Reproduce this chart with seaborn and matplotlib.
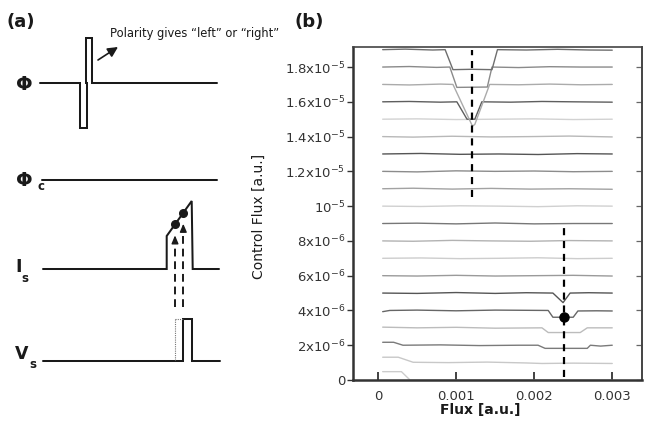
import numpy as np
import pandas as pd
import matplotlib
matplotlib.use("Agg")
import matplotlib.pyplot as plt
import seaborn as sns

# ---------------- panel (b): readout traces ----------------
# flux in units of 1e-3, control flux in units of 1e-6
flux_19 = [0.06, 0.35, 0.70, 0.86, 0.96, 1.20, 1.46, 1.53, 1.90, 2.30, 2.70, 3.00]
ctrl_19 = [19.0, 19.03, 18.98, 19.0, 17.85, 17.87, 17.85, 19.0, 18.98, 19.02, 18.98, 18.97]
flux_18 = [0.06, 0.40, 0.75, 0.92, 1.01, 1.40, 1.46, 1.80, 2.20, 2.60, 3.00]
ctrl_18 = [18.0, 18.03, 17.98, 18.0, 16.83, 16.85, 18.0, 17.97, 18.02, 18.0, 18.0]
flux_17 = [0.06, 0.40, 0.80, 0.96, 1.21, 1.24, 1.43, 1.80, 2.20, 2.60, 3.00]
ctrl_17 = [17.0, 16.97, 17.02, 17.0, 14.6, 14.7, 17.0, 16.98, 17.02, 16.98, 17.0]
flux_16 = [0.06, 0.40, 0.80, 1.01, 1.14, 1.24, 1.33, 1.70, 2.10, 2.50, 3.00]
ctrl_16 = [16.0, 16.02, 15.98, 16.0, 15.0, 15.0, 16.0, 15.98, 16.02, 16.0, 15.98]
flux_15 = [0.06, 0.50, 1.00, 1.50, 2.00, 2.50, 3.00]
ctrl_15 = [15.0, 15.02, 14.98, 15.0, 15.02, 14.98, 15.0]
flux_14 = [0.06, 0.45, 0.95, 1.45, 1.95, 2.45, 3.00]
ctrl_14 = [14.0, 13.97, 14.02, 13.98, 14.0, 14.03, 13.98]
flux_13 = [0.06, 0.55, 1.05, 1.55, 2.05, 2.55, 3.00]
ctrl_13 = [13.0, 13.03, 12.98, 13.0, 12.97, 13.02, 13.0]
flux_12 = [0.06, 0.50, 1.00, 1.50, 2.00, 2.50, 3.00]
ctrl_12 = [12.0, 11.97, 12.03, 12.0, 12.02, 11.98, 12.0]
flux_11 = [0.06, 0.45, 0.95, 1.45, 1.95, 2.45, 3.00]
ctrl_11 = [11.0, 11.03, 10.98, 11.02, 10.98, 11.0, 10.97]
flux_10 = [0.06, 0.55, 1.05, 1.55, 2.05, 2.55, 3.00]
ctrl_10 = [10.0, 9.98, 10.02, 10.0, 9.97, 10.02, 10.0]
flux_9 = [0.06, 0.50, 1.00, 1.50, 2.00, 2.50, 3.00]
ctrl_9 = [9.0, 9.02, 8.98, 9.03, 8.98, 9.0, 9.0]
flux_8 = [0.06, 0.45, 0.95, 1.45, 1.95, 2.45, 3.00]
ctrl_8 = [8.0, 7.98, 8.03, 8.0, 7.98, 8.02, 8.0]
flux_7 = [0.06, 0.55, 1.05, 1.55, 2.05, 2.55, 3.00]
ctrl_7 = [7.0, 7.02, 6.98, 7.0, 7.03, 6.98, 7.0]
flux_6 = [0.06, 0.50, 1.00, 1.50, 2.00, 2.50, 3.00]
ctrl_6 = [6.0, 5.98, 6.02, 5.98, 6.0, 6.02, 5.98]
flux_5 = [0.06, 0.50, 1.00, 1.50, 1.90, 2.24, 2.37, 2.46, 2.70, 3.00]
ctrl_5 = [5.0, 4.98, 5.03, 4.98, 5.02, 5.0, 4.45, 5.0, 5.02, 5.0]
flux_4 = [0.06, 0.15, 0.50, 1.00, 1.50, 2.18, 2.24, 2.50, 2.56, 2.80, 3.00]
ctrl_4 = [3.93, 4.0, 4.02, 3.98, 4.02, 4.0, 3.61, 3.61, 3.97, 3.98, 3.97]
flux_3 = [0.06, 0.50, 1.00, 1.50, 2.10, 2.18, 2.59, 2.68, 3.00]
ctrl_3 = [3.04, 3.0, 3.03, 2.98, 3.0, 2.73, 2.73, 3.0, 3.0]
flux_2 = [0.06, 0.20, 0.32, 0.80, 1.30, 1.80, 2.05, 2.14, 2.68, 2.72, 2.85, 3.00]
ctrl_2 = [2.17, 2.17, 2.0, 2.02, 1.98, 2.0, 2.0, 1.82, 1.82, 2.0, 1.95, 2.0]
flux_1 = [0.06, 0.26, 0.45, 0.90, 1.40, 1.90, 2.10, 2.50, 3.00]
ctrl_1 = [1.31, 1.31, 1.02, 1.0, 1.03, 0.98, 0.95, 0.97, 0.95]
flux_0 = [0.06, 0.30, 0.41, 1.00, 2.00, 3.00]
ctrl_0 = [0.48, 0.48, 0.0, 0.0, 0.0, 0.0]

# readout markers: dashed guide at the switching flux and the selected point
guide_flux = [1.20, 2.385]
guide_lo = [10.5, 0.15]
guide_hi = [19.0, 8.8]
point_flux = [2.38]
point_ctrl = [3.65]

y_tick_vals = [0, 2, 4, 6, 8, 10, 12, 14, 16, 18]
y_tick_text = ["0", "2x10$^{-6}$", "4x10$^{-6}$", "6x10$^{-6}$", "8x10$^{-6}$",
               "10$^{-5}$", "1.2x10$^{-5}$", "1.4x10$^{-5}$", "1.6x10$^{-5}$",
               "1.8x10$^{-5}$"]
x_tick_vals = [0, 1, 2, 3]
x_tick_text = ["0", "0.001", "0.002", "0.003"]

# ---------------- panel (a): timing schematic ----------------
# time axis (schematic units) and amplitude of each waveform
phi_t = [0, 40, 40, 47, 47, 46, 46, 52, 52, 177]
phi_a = [0, 0, -45, -45, 0, 0, 45, 45, 0, 0]
phic_t = [2, 177]
phic_a = [0, 0]
is_t = [3, 126.7, 126.7, 151.7, 152.7, 179]
is_a = [0, 0, 33, 68, 0, 0]
vs_t = [3, 143.3, 143.3, 151.7, 151.7, 180]
vs_a = [0, 0, 42, 42, 0, 0]
sample_t = [135.0, 143.3]

# ---------------- style ----------------
sns.set_theme(style="white")
plt.rcParams["font.family"] = ["DejaVu Sans"]
plt.rcParams["mathtext.fontset"] = "dejavusans"

fig = plt.figure(figsize=(6.47, 4.34), dpi=100)

# schematic canvas in pixel-like units
ax_a = fig.add_axes([0, 0, 1, 1])
ax_a.set_xlim(0, 647)
ax_a.set_ylim(434, 0)
ax_a.axis("off")

x0 = 40
base_phi, base_phic, base_is, base_vs = 83, 180, 269, 361
ink = "#1a1a1a"
lw_a = 1.45

def trace(t, a, base):
    return x0 + np.asarray(t, float), base - np.asarray(a, float)

for t, a, b in [(phi_t, phi_a, base_phi), (phic_t, phic_a, base_phic),
                (is_t, is_a, base_is), (vs_t, vs_a, base_vs)]:
    xs, ys = trace(t, a, b)
    ax_a.plot(xs, ys, color=ink, lw=lw_a, solid_joinstyle="miter")

# sample points on the ramp of I_s
ramp_t = is_t[2:4]
ramp_a = is_a[2:4]
samp_a = np.interp(sample_t, ramp_t, ramp_a)
sx, sy = trace(sample_t, samp_a, base_is)
ax_a.plot(sx, sy, "o", color=ink, ms=5.5)

# dashed arrows from V_s up to the sample points
for xi, yi in zip(sx, sy):
    tip = yi + 11
    ax_a.plot([xi, xi], [base_vs - 54, tip + 4], color=ink, lw=1.4,
              dashes=(4, 2.5))
    ax_a.annotate("", xy=(xi, tip), xytext=(xi, tip + 5),
                  arrowprops=dict(arrowstyle="-|>,head_length=0.4,head_width=0.17",
                                  color=ink, lw=1.0, shrinkA=0, shrinkB=0))

# dotted reference at the V_s pulse
vx, _ = trace([sample_t[0], vs_t[1]], [0, 0], base_vs)
vtop = base_vs - vs_a[2]
ax_a.plot([vx[0], vx[0]], [vtop, base_vs], color="#777777", lw=0.8, ls=(0, (1, 1)))
ax_a.plot([vx[0], vx[1]], [vtop, vtop], color="#777777", lw=0.8, ls=(0, (1, 1)))

# annotation arrow near the Phi pulse
ax_a.annotate("", xy=(118, 47), xytext=(98, 60),
              arrowprops=dict(arrowstyle="-|>,head_length=0.5,head_width=0.25",
                              color=ink, lw=1.2, shrinkA=0, shrinkB=0))
ax_a.text(110, 34, "Polarity gives \u201cleft\u201d or \u201cright\u201d",
          fontsize=8.3, va="center", ha="left", color=ink)

# waveform labels
phi_kw = dict(fontsize=14, fontweight="bold", color=ink, va="center", ha="left")
lab_kw = dict(fontsize=12.5, fontweight="bold", color=ink, va="center", ha="left")
sub_kw = dict(fontsize=8.5, fontweight="bold", color=ink, va="center", ha="left")
ax_a.text(16, 84, "\u03a6", **phi_kw)
ax_a.text(16, 180, "\u03a6", **phi_kw)
ax_a.text(37, 187, "c", **sub_kw)
ax_a.text(15, 267, "I", **lab_kw)
ax_a.text(21, 278, "s", **sub_kw)
ax_a.text(15, 354, "V", **lab_kw)
ax_a.text(29, 364, "s", **sub_kw)

# panel tags
ax_a.text(7, 22, "(a)", fontsize=13, fontweight="bold", color=ink, va="center", ha="left")
ax_a.text(294, 22, "(b)", fontsize=13, fontweight="bold", color=ink, va="center", ha="left")

# ---------------- panel (b) ----------------
ax = fig.add_axes([353 / 647, (434 - 380) / 434, 289 / 647, 333.3 / 434])
ax.patch.set_alpha(0)

levels = list(range(19, -1, -1))
flux_sets = [flux_19, flux_18, flux_17, flux_16, flux_15, flux_14, flux_13,
             flux_12, flux_11, flux_10, flux_9, flux_8, flux_7, flux_6,
             flux_5, flux_4, flux_3, flux_2, flux_1, flux_0]
ctrl_sets = [ctrl_19, ctrl_18, ctrl_17, ctrl_16, ctrl_15, ctrl_14, ctrl_13,
             ctrl_12, ctrl_11, ctrl_10, ctrl_9, ctrl_8, ctrl_7, ctrl_6,
             ctrl_5, ctrl_4, ctrl_3, ctrl_2, ctrl_1, ctrl_0]

rows = []
for lev, fx, cy in zip(levels, flux_sets, ctrl_sets):
    for i, (f, c) in enumerate(zip(fx, cy)):
        rows.append({"level": lev, "order": i, "flux": f * 1e-3, "control": c * 1e-6})
df = pd.DataFrame(rows)

grays = {19: "#6e6e6e", 18: "#8a8a8a", 17: "#ababab", 16: "#5e5e5e",
         15: "#d2d2d2", 14: "#b8b8b8", 13: "#555555", 12: "#8c8c8c",
         11: "#a2a2a2", 10: "#d0d0d0", 9: "#777777", 8: "#b2b2b2",
         7: "#cdcdcd", 6: "#9a9a9a", 5: "#555555", 4: "#666666",
         3: "#bcbcbc", 2: "#7a7a7a", 1: "#c8c8c8", 0: "#cccccc"}

sns.lineplot(data=df, x="flux", y="control", hue="level", palette=grays,
             estimator=None, sort=False, legend=False, linewidth=1.0, ax=ax)

for gx, lo, hi in zip(guide_flux, guide_lo, guide_hi):
    ax.plot([gx * 1e-3, gx * 1e-3], [lo * 1e-6, hi * 1e-6], color="black",
            lw=1.6, dashes=(3.2, 2.6), zorder=3)
ax.plot(np.array(point_flux) * 1e-3, np.array(point_ctrl) * 1e-6, "o",
        color="black", ms=6.5, zorder=4)

ax.set_xlim(-0.00032, 0.003381)
ax.set_ylim(0, 19.17e-6)

ax.set_xticks(np.array(x_tick_vals) * 1e-3)
ax.set_xticklabels(x_tick_text)
ax.set_yticks(np.array(y_tick_vals) * 1e-6)
ax.set_yticklabels(y_tick_text)

tick_color = "#333333"
ax.tick_params(axis="x", direction="in", length=5.5, width=1.3, pad=7,
               labelsize=9.5, colors=tick_color, bottom=True, top=False)
ax.tick_params(axis="y", direction="out", length=4, width=1.0, pad=1.5,
               labelsize=9.5, colors=tick_color, left=True)

right = ax.secondary_yaxis("right")
right.set_yticks(np.array(y_tick_vals) * 1e-6)
right.tick_params(direction="in", length=4, width=0.9, labelright=False,
                  colors="#666666")
right.spines["right"].set_color("#444444")
right.spines["right"].set_linewidth(1.2)

for side in ["left", "bottom"]:
    ax.spines[side].set_color("#333333")
    ax.spines[side].set_linewidth(1.8)
for side in ["top", "right"]:
    ax.spines[side].set_color("#444444")
    ax.spines[side].set_linewidth(1.2)

ax.set_xlabel("Flux [a.u.]", fontsize=10, fontweight="bold", color="#1a1a1a")
ax.set_ylabel("Control Flux [a.u.]", fontsize=10, color="#1a1a1a")
ax.xaxis.set_label_coords(0.44, -0.068)
ax.yaxis.set_label_coords(-0.30, 0.492)

fig.savefig("out.png", dpi=100)
